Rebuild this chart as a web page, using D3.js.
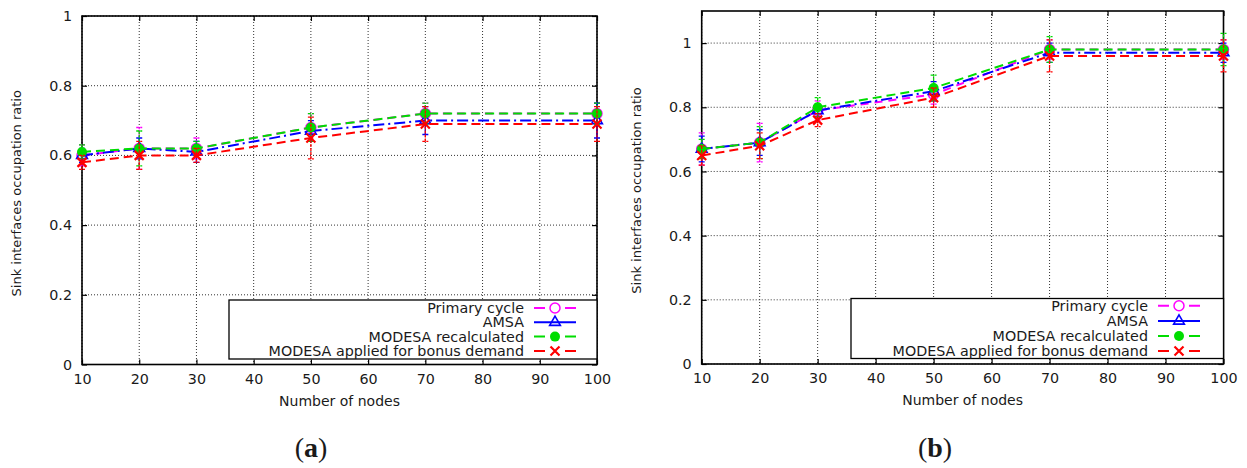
<!DOCTYPE html>
<html>
<head>
<meta charset="utf-8">
<script src="https://cdn.jsdelivr.net/npm/d3@7"></script>
<style>
  body { margin: 0; background: #fff; }
  text { font-family: "DejaVu Sans", "Liberation Sans", sans-serif; fill: #1a1a1a; }
</style>
</head>
<body>
<div id="chart"></div>
<script>
// ---- data ----
const nodes = [10, 20, 30, 50, 70, 100];
const xTicks = [10, 20, 30, 40, 50, 60, 70, 80, 90, 100];
const yTicks = [0, 0.2, 0.4, 0.6, 0.8, 1];
const yTickLabels = ["0", "0.2", "0.4", "0.6", "0.8", "1"];
const seriesNames = ["Primary cycle", "AMSA", "MODESA recalculated", "MODESA applied for bonus demand"];

// panel (a)
const aPrimary = [0.60, 0.62, 0.62, 0.68, 0.72, 0.72];
const aAmsa = [0.60, 0.62, 0.61, 0.67, 0.70, 0.70];
const aModesa = [0.61, 0.62, 0.62, 0.68, 0.72, 0.72];
const aBonus = [0.58, 0.60, 0.60, 0.65, 0.69, 0.69];
const aPrimaryErr = [0.03, 0.06, 0.03, 0.04, 0.03, 0.03];
const aAmsaErr = [0.02, 0.03, 0.03, 0.03, 0.04, 0.05];
const aModesaErr = [0.02, 0.05, 0.02, 0.04, 0.03, 0.03];
const aBonusErr = [0.02, 0.04, 0.02, 0.06, 0.05, 0.05];

// panel (b)
const bPrimary = [0.67, 0.69, 0.79, 0.84, 0.98, 0.98];
const bAmsa = [0.67, 0.69, 0.79, 0.85, 0.97, 0.97];
const bModesa = [0.67, 0.69, 0.80, 0.86, 0.98, 0.98];
const bBonus = [0.65, 0.68, 0.76, 0.83, 0.96, 0.96];
const bPrimaryErr = [0.05, 0.06, 0.03, 0.03, 0.03, 0.03];
const bAmsaErr = [0.04, 0.04, 0.02, 0.03, 0.03, 0.03];
const bModesaErr = [0.03, 0.05, 0.03, 0.04, 0.04, 0.05];
const bBonusErr = [0.03, 0.04, 0.02, 0.03, 0.05, 0.05];

// ---- styles ----
const colors = ["#ff00ff", "#0000ff", "#00dd00", "#ff0000"];
const dashes = ["8,6", "11,4,2,4", "9,5", "9,5"];
const symbols = ["circleOpen", "triangleOpen", "circleFilled", "cross"];

const W = 1247, H = 468;
const svg = d3.select("#chart").append("svg")
  .attr("width", W)
  .attr("height", H);

function drawMarker(g, type, color, cx, cy) {
  if (type === "circleOpen") {
    g.append("circle").attr("cx", cx).attr("cy", cy).attr("r", 5)
      .attr("fill", "none").attr("stroke", color).attr("stroke-width", 1.5);
  } else if (type === "circleFilled") {
    g.append("circle").attr("cx", cx).attr("cy", cy).attr("r", 5)
      .attr("fill", color);
  } else if (type === "triangleOpen") {
    g.append("path")
      .attr("d", d3.symbol(d3.symbolTriangle, 50)())
      .attr("transform", `translate(${cx},${cy})`)
      .attr("fill", "none").attr("stroke", color).attr("stroke-width", 1.6);
  } else {
    g.append("path")
      .attr("d", `M${cx - 4.5},${cy - 4.5}L${cx + 4.5},${cy + 4.5}M${cx - 4.5},${cy + 4.5}L${cx + 4.5},${cy - 4.5}`)
      .attr("stroke", color).attr("stroke-width", 2.2);
  }
}

function drawPanel(p) {
  const x = d3.scaleLinear().domain([10, 100]).range([p.left, p.right]);
  const y = d3.scaleLinear().domain([0, p.yMax]).range([p.bottom, p.top]);
  const g = svg.append("g");

  // grid
  g.append("g")
    .selectAll("line.vg")
    .data(xTicks)
    .join("line")
    .attr("x1", d => x(d)).attr("x2", d => x(d))
    .attr("y1", p.top).attr("y2", p.bottom)
    .attr("stroke", "#333").attr("stroke-width", 1).attr("stroke-dasharray", "1,2");
  g.append("g")
    .selectAll("line.hg")
    .data(yTicks)
    .join("line")
    .attr("x1", p.left).attr("x2", p.right)
    .attr("y1", d => y(d)).attr("y2", d => y(d))
    .attr("stroke", "#333").attr("stroke-width", 1).attr("stroke-dasharray", "1,2");

  // axes (ticks inside, mirrored)
  g.append("g")
    .attr("transform", `translate(0,${p.bottom})`)
    .call(d3.axisBottom(x).tickValues(xTicks).tickSizeInner(-5).tickSizeOuter(0).tickPadding(9));
  g.append("g")
    .attr("transform", `translate(${p.left},0)`)
    .call(d3.axisLeft(y).tickValues(yTicks).tickFormat((d, i) => yTickLabels[i])
      .tickSizeInner(-5).tickSizeOuter(0).tickPadding(10));
  g.append("g")
    .attr("transform", `translate(0,${p.top})`)
    .call(d3.axisTop(x).tickValues(xTicks).tickSizeInner(-5).tickSizeOuter(0).tickFormat(""));
  g.append("g")
    .attr("transform", `translate(${p.right},0)`)
    .call(d3.axisRight(y).tickValues(yTicks).tickSizeInner(-5).tickSizeOuter(0).tickFormat(""));
  g.selectAll(".domain").remove();
  g.selectAll(".tick line").attr("stroke", "#000").attr("stroke-width", 1.2);
  g.selectAll(".tick text").style("font-size", "14.3px").style("font-family", "DejaVu Sans").attr("fill", "#1a1a1a");

  g.append("rect")
    .attr("x", p.left).attr("y", p.top)
    .attr("width", p.right - p.left).attr("height", p.bottom - p.top)
    .attr("fill", "none").attr("stroke", "#000").attr("stroke-width", 1.6);

  // axis labels
  g.append("text")
    .attr("x", (p.left + p.right) / 2)
    .attr("y", p.bottom + 41)
    .attr("text-anchor", "middle")
    .style("font-size", "14px")
    .text("Number of nodes");
  g.append("text")
    .attr("transform", `translate(${p.left - 61},${(p.top + p.bottom) / 2 + 3}) rotate(-90)`)
    .attr("text-anchor", "middle")
    .style("font-size", "13px")
    .text("Sink interfaces occupation ratio");

  // legend
  const lg = g.append("g");
  lg.append("rect")
    .attr("x", p.legend.x0).attr("y", p.legend.y0)
    .attr("width", p.right - p.legend.x0).attr("height", p.legend.y1 - p.legend.y0)
    .attr("fill", "#fff").attr("stroke", "#000").attr("stroke-width", 1.3);

  // series
  p.series.forEach((s, k) => {
    const sg = g.append("g");
    const line = d3.line().x((d, i) => x(nodes[i])).y(d => y(d));
    sg.append("path")
      .datum(s.values)
      .attr("d", line)
      .attr("fill", "none")
      .attr("stroke", colors[k])
      .attr("stroke-width", 2)
      .attr("stroke-dasharray", dashes[k]);
    s.values.forEach((v, i) => {
      const cx = x(nodes[i]);
      const e = s.err[i];
      sg.append("path")
        .attr("d", `M${cx},${y(v - e)}L${cx},${y(v + e)}M${cx - 3},${y(v - e)}L${cx + 3},${y(v - e)}M${cx - 3},${y(v + e)}L${cx + 3},${y(v + e)}`)
        .attr("stroke", colors[k]).attr("stroke-width", 1.3).attr("fill", "none")
        .attr("stroke-dasharray", k === 1 ? null : "3,1");
    });
    s.values.forEach((v, i) => drawMarker(sg, symbols[k], colors[k], x(nodes[i]), y(v)));

    const ry = p.legend.rows[k];
    lg.append("text")
      .attr("x", p.legend.textX).attr("y", ry)
      .attr("dy", "0.36em")
      .attr("text-anchor", "end")
      .style("font-size", "14.3px")
      .text(seriesNames[k]);
    const sx = p.legend.textX + 10, ex = p.legend.textX + 52, mx = (sx + ex) / 2;
    if (k === 1) {
      lg.append("line").attr("x1", sx).attr("x2", ex).attr("y1", ry).attr("y2", ry)
        .attr("stroke", colors[k]).attr("stroke-width", 2);
    } else {
      lg.append("path").attr("d", `M${sx},${ry}L${sx + 11},${ry}M${ex - 11},${ry}L${ex},${ry}`)
        .attr("stroke", colors[k]).attr("stroke-width", 2);
    }
    drawMarker(lg, symbols[k], colors[k], mx, ry);
  });

  // caption
  const cap = g.append("text")
    .attr("x", p.captionX).attr("y", 457)
    .attr("text-anchor", "middle")
    .style("font-family", "Liberation Serif")
    .style("font-size", "28px");
  cap.append("tspan").text("(");
  cap.append("tspan").style("font-weight", "bold").text(p.caption);
  cap.append("tspan").text(")");
}

drawPanel({
  left: 82, right: 597, top: 16, bottom: 364.5, yMax: 1,
  captionX: 311, caption: "a",
  legend: { x0: 229, y0: 300, y1: 359, textX: 524, rows: [308, 322.3, 336.6, 351] },
  series: [
    { values: aPrimary, err: aPrimaryErr },
    { values: aAmsa, err: aAmsaErr },
    { values: aModesa, err: aModesaErr },
    { values: aBonus, err: aBonusErr }
  ]
});

drawPanel({
  left: 701.7, right: 1223.5, top: 11, bottom: 364, yMax: 1.1,
  captionX: 935, caption: "b",
  legend: { x0: 851, y0: 298.5, y1: 358.5, textX: 1148, rows: [305.7, 321, 336, 351] },
  series: [
    { values: bPrimary, err: bPrimaryErr },
    { values: bAmsa, err: bAmsaErr },
    { values: bModesa, err: bModesaErr },
    { values: bBonus, err: bBonusErr }
  ]
});
</script>
</body>
</html>
